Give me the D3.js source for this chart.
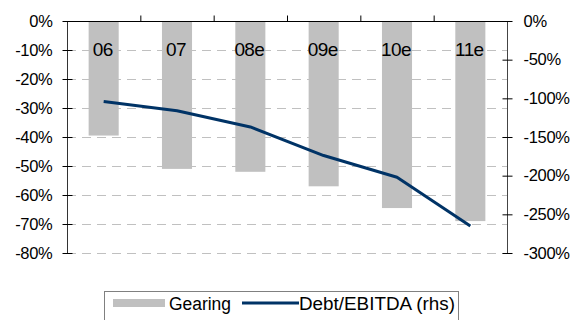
<!DOCTYPE html>
<html>
<head>
<meta charset="utf-8">
<script src="https://cdn.jsdelivr.net/npm/d3@7/dist/d3.min.js"></script>
<style>
  html, body { margin: 0; padding: 0; background: #fff; }
  svg { display: block; font-family: "Liberation Sans", Arial, sans-serif; }
  text { fill: #000; }
</style>
</head>
<body>
<svg id="chart" width="577" height="320"></svg>
<script>
// Years (e = estimate)
const categories = ["06", "07", "08e", "09e", "10e", "11e"];
// Gearing, % (left axis)
const gearing = [-39.5, -51, -52, -57, -64.5, -69];
// Net debt / EBITDA, % (right axis)
const debtEbitda = [-104, -116, -137, -174, -202, -265];
const leftTicks = [0, -10, -20, -30, -40, -50, -60, -70, -80];
const rightTicks = [0, -50, -100, -150, -200, -250, -300];

const svg = d3.select("#chart");
const m = { left: 67, right: 507, top: 21, bottom: 253 };

const x = d3.scaleBand().domain(categories).range([m.left, m.right]).paddingInner(0.59).paddingOuter(0.295);
const xTicks = d3.scaleBand().domain(categories).range([m.left, m.right]);
const yL = d3.scaleLinear().domain([-80, 0]).range([m.bottom, m.top]);
const yR = d3.scaleLinear().domain([-300, 0]).range([m.bottom, m.top]);

// dashed horizontal gridlines
svg.append("g").selectAll("line").data(leftTicks.filter(d => d !== 0)).join("line")
  .attr("x1", m.left).attr("x2", m.right)
  .attr("y1", d => yL(d) + 0.5).attr("y2", d => yL(d) + 0.5)
  .attr("stroke", "#c0c0c0").attr("stroke-width", 1).attr("stroke-dasharray", "9,6");

// gearing bars hanging from zero
svg.append("g").selectAll("rect").data(gearing).join("rect")
  .attr("x", (d, i) => x(categories[i]))
  .attr("width", x.bandwidth())
  .attr("y", yL(0))
  .attr("height", d => yL(d) - yL(0))
  .attr("fill", "#c0c0c0");

// category labels inside the plot near the top
svg.append("g").selectAll("text").data(categories).join("text")
  .attr("x", d => x(d) + x.bandwidth() / 2 - 1)
  .attr("y", 56)
  .attr("text-anchor", "middle")
  .attr("font-size", 19).attr("letter-spacing", -0.6)
  .text(d => d);

// debt / EBITDA line
svg.append("path").datum(debtEbitda)
  .attr("fill", "none").attr("stroke", "#003366").attr("stroke-width", 3)
  .attr("stroke-linejoin", "round")
  .attr("d", d3.line().x((d, i) => x(categories[i]) + x.bandwidth() / 2).y(d => yR(d)));

// top (zero) axis with upward ticks between categories
const zeroAxis = svg.append("g").attr("transform", `translate(0,${m.top + 0.5})`);
zeroAxis.append("line").attr("x1", m.left).attr("x2", m.right).attr("stroke", "#000");
zeroAxis.selectAll("line.t").data(categories.slice(1)).join("line").attr("class", "t")
  .attr("x1", d => xTicks(d) + 0.5).attr("x2", d => xTicks(d) + 0.5)
  .attr("y1", -6).attr("y2", 0).attr("stroke", "#000");

// left axis
const gl = svg.append("g").attr("transform", `translate(${m.left + 0.5},0)`)
  .call(d3.axisLeft(yL).tickValues(leftTicks).tickSize(5).tickFormat(d => d + "%"));
gl.select(".domain").attr("stroke", "#333").attr("d", `M0,${m.top}V${m.bottom}`);
gl.selectAll(".tick line").attr("stroke", "#000").attr("x1", -5).attr("x2", 5);
gl.selectAll(".tick text").attr("font-size", 16.5).attr("letter-spacing", -0.3)
  .attr("fill", "#000").attr("x", -15).attr("font-family", "Liberation Sans, Arial, sans-serif");

// right axis
const gr = svg.append("g").attr("transform", `translate(${m.right + 0.5},0)`)
  .call(d3.axisRight(yR).tickValues(rightTicks).tickSize(5).tickFormat(d => d + "%"));
gr.select(".domain").attr("stroke", "#444").attr("d", `M0,${m.top}V${m.bottom}`);
gr.selectAll(".tick line").attr("stroke", "#000").attr("x1", -5).attr("x2", 5);
gr.selectAll(".tick text").attr("font-size", 16.5).attr("letter-spacing", -0.3)
  .attr("fill", "#000").attr("x", 16).attr("font-family", "Liberation Sans, Arial, sans-serif");

// legend
const lg = svg.append("g");
lg.append("rect").attr("x", 104.5).attr("y", 291.5).attr("width", 354).attr("height", 40)
  .attr("fill", "#fff").attr("stroke", "#808080");
lg.append("rect").attr("x", 113).attr("y", 299).attr("width", 52).attr("height", 8).attr("fill", "#c0c0c0");
lg.append("text").attr("x", 169).attr("y", 310).attr("font-size", 18)
  .attr("textLength", 62).attr("lengthAdjust", "spacingAndGlyphs").text("Gearing");
lg.append("line").attr("x1", 242).attr("x2", 299).attr("y1", 303).attr("y2", 303)
  .attr("stroke", "#003366").attr("stroke-width", 3);
lg.append("text").attr("x", 299).attr("y", 310).attr("font-size", 18)
  .attr("textLength", 156).attr("lengthAdjust", "spacingAndGlyphs").text("Debt/EBITDA (rhs)");
</script>
</body>
</html>
